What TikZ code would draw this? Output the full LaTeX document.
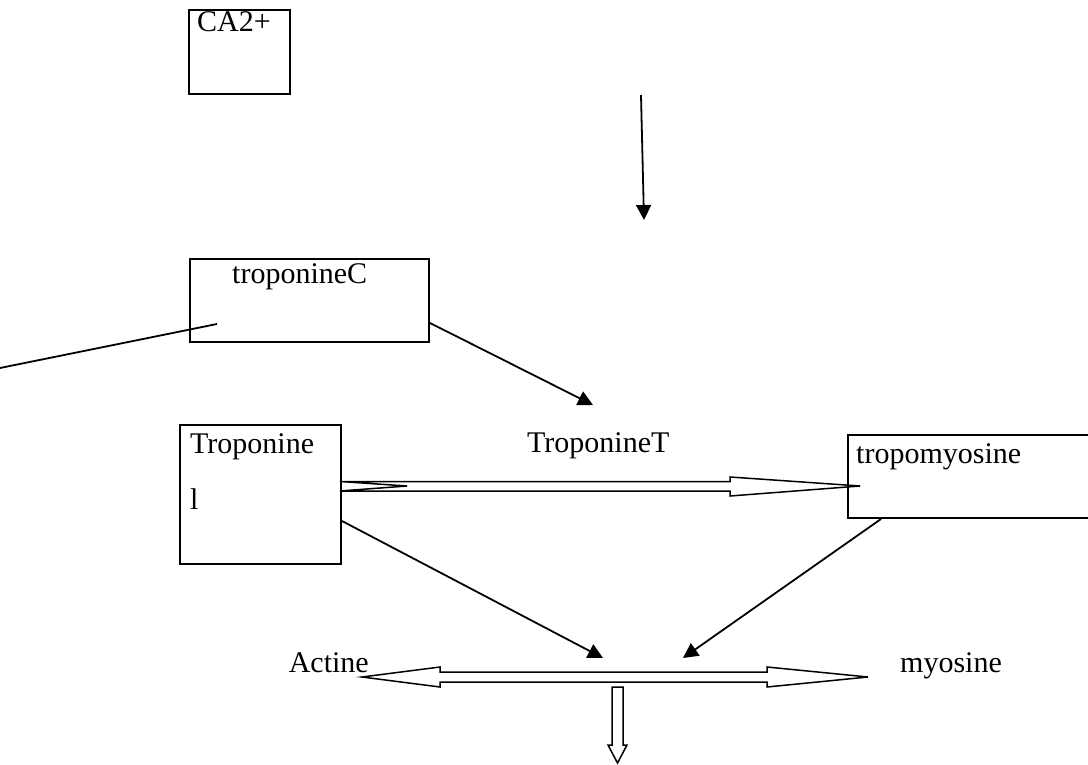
\documentclass[tikz,border=0pt]{standalone}
\usepackage{fontspec}
\setmainfont{Liberation Serif}
\usetikzlibrary{arrows.meta}
\begin{document}
\begin{tikzpicture}[x=1pt,y=-1pt,
  box/.style={draw, line width=2pt, inner sep=0pt, anchor=north west},
  lbl/.style={font=\fontsize{30}{36}\selectfont, inner sep=0pt},
  conn/.style={line width=1.8pt, -{Triangle[length=15pt,width=15pt]}},
  plain/.style={line width=1.8pt},
  hollow/.style={draw, line width=1.5pt, line join=miter}]
\useasboundingbox (0,0) rectangle (1088,765);
\clip (0,0) rectangle (1088,765);
% boxes
\node[box, minimum width=101pt, minimum height=84pt] (ca) at (188,9) {};
\node[lbl, anchor=base west] (catext) at (197,32) {CA2+};
\node[box, minimum width=239pt, minimum height=83pt] (tc) at (189,258) {};
\node[lbl, anchor=base west] (tctext) at (232,283) {troponineC};
\node[box, minimum width=161pt, minimum height=139pt] (ti) at (179,424) {};
\node[lbl, anchor=base west] (titext1) at (190,453) {Troponine};
\node[lbl, anchor=base west] (titext2) at (190,509) {l};
\node[lbl, anchor=base west] (tt) at (527,452) {TroponineT};
\node[box, minimum width=260pt, minimum height=83pt] (tm) at (847,434) {};
\node[lbl, anchor=base west] (tmtext) at (856,463) {tropomyosine};
\node[lbl, anchor=base east] (act) at (369,672) {Actine};
\node[lbl, anchor=base west] (myo) at (900,672) {myosine};
% free ends
\coordinate (v1) at (641,95);
\coordinate (v2) at (644,220);
\coordinate (l1) at (0,368);
\coordinate (l2) at (217,324);
\coordinate (t1) at (593,405);
\coordinate (a1) at (603,658);
\coordinate (a2) at (683,658);
% connectors
\draw[conn] (v1) -- (v2);
\draw[plain] (l1) -- (l2);
\draw[conn] ([yshift=-22.5pt]tc.east) -- (t1);
\draw[conn] ([yshift=-26.5pt]ti.east) -- (a1);
\draw[conn] ([xshift=-97pt]tm.south) -- (a2);
% hollow arrows
\draw[hollow] (340,481.5) -- (730,481.5) -- (730,477) -- (860,486) -- (730,496) -- (730,491) -- (340,491) -- (407,486) -- cycle;
\draw[hollow] (362,677) -- (440,667) -- (440,672) -- (767,672) -- (767,667) -- (868,677) -- (767,687) -- (767,682) -- (440,682) -- (440,687) -- cycle;
\draw[hollow] (612,687) -- (623,687) -- (623,745) -- (627,745) -- (617.5,763) -- (608,745) -- (612,745) -- cycle;
\end{tikzpicture}
\end{document}
